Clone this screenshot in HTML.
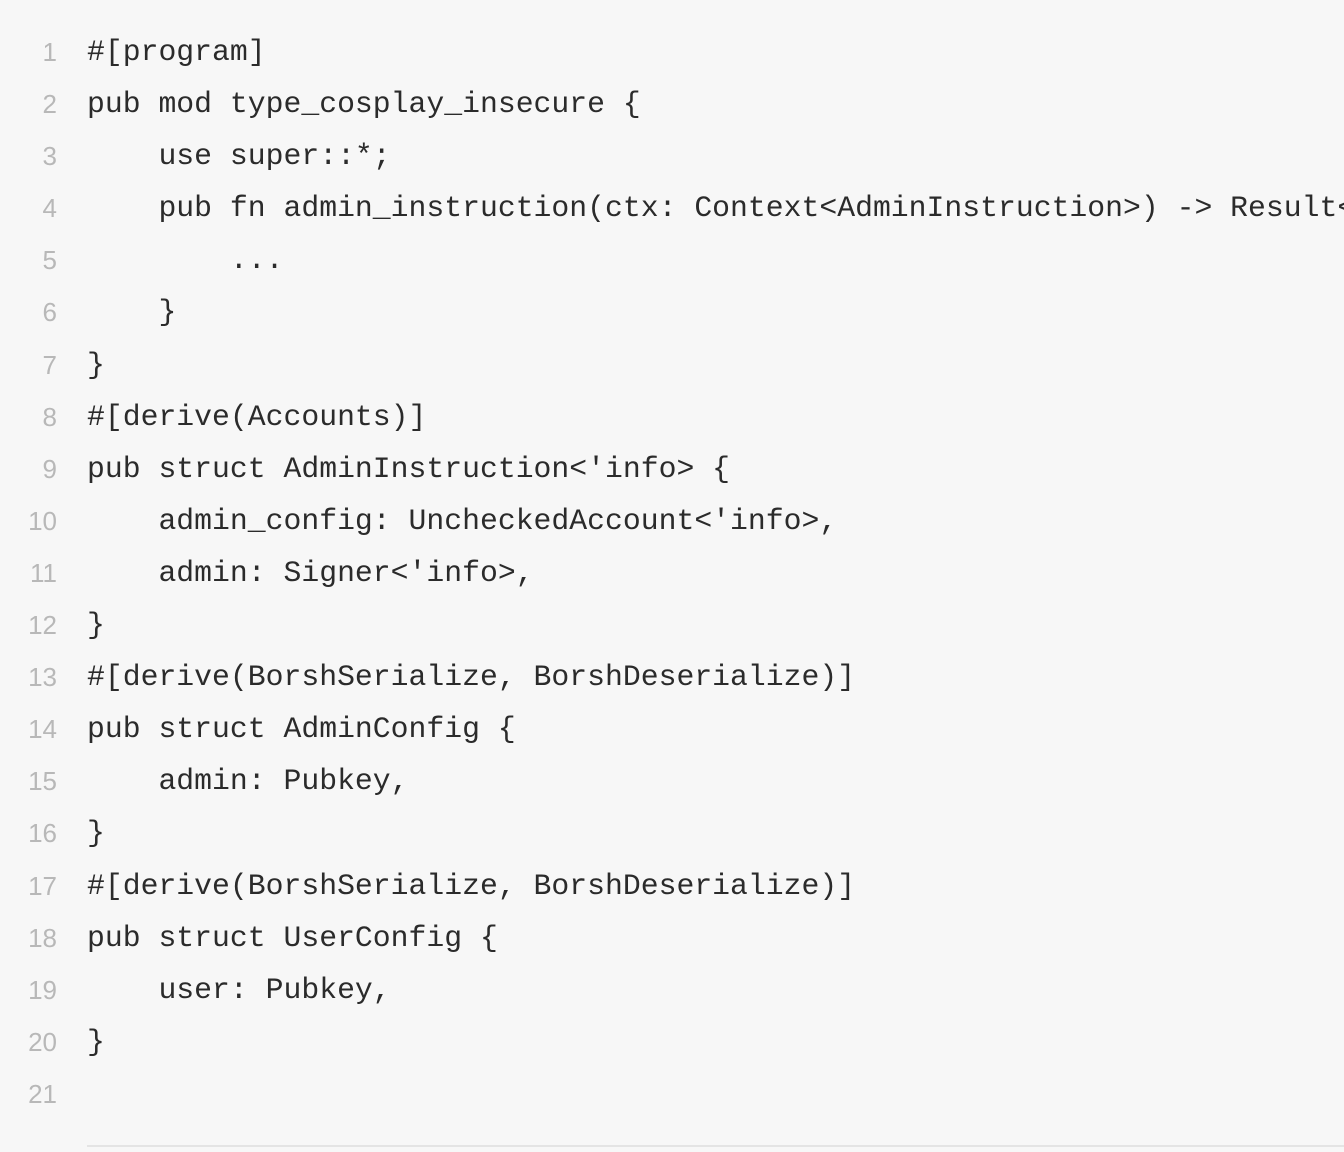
<!DOCTYPE html>
<html><head><meta charset="utf-8"><style>
html,body{margin:0;padding:0;background:#f7f7f7;width:1344px;height:1152px;overflow:hidden}
.wrap{position:absolute;left:0;top:26px;width:1344px;overflow:hidden}
.row{height:52.1px;line-height:52.1px;white-space:pre;position:relative;overflow:hidden}
.n{position:absolute;left:0;width:57px;text-align:right;color:#b8b8b8;font-family:"Liberation Sans",sans-serif;font-size:26px}
.c{position:absolute;left:87px;font-family:"Liberation Mono",monospace;font-size:29.77px;color:#2b2b2b}
.hr{position:absolute;left:87px;top:1145px;width:1257px;height:2px;background:#e4e4e4}
</style></head><body><div class="wrap">
<div class="row"><span class="n">1</span><span class="c">#[program]</span></div>
<div class="row"><span class="n">2</span><span class="c">pub mod type_cosplay_insecure {</span></div>
<div class="row"><span class="n">3</span><span class="c">    use super::*;</span></div>
<div class="row"><span class="n">4</span><span class="c">    pub fn admin_instruction(ctx: Context&lt;AdminInstruction&gt;) -&gt; Result&lt;()&gt; {</span></div>
<div class="row"><span class="n">5</span><span class="c">        ...</span></div>
<div class="row"><span class="n">6</span><span class="c">    }</span></div>
<div class="row"><span class="n">7</span><span class="c">}</span></div>
<div class="row"><span class="n">8</span><span class="c">#[derive(Accounts)]</span></div>
<div class="row"><span class="n">9</span><span class="c">pub struct AdminInstruction&lt;'info&gt; {</span></div>
<div class="row"><span class="n">10</span><span class="c">    admin_config: UncheckedAccount&lt;'info&gt;,</span></div>
<div class="row"><span class="n">11</span><span class="c">    admin: Signer&lt;'info&gt;,</span></div>
<div class="row"><span class="n">12</span><span class="c">}</span></div>
<div class="row"><span class="n">13</span><span class="c">#[derive(BorshSerialize, BorshDeserialize)]</span></div>
<div class="row"><span class="n">14</span><span class="c">pub struct AdminConfig {</span></div>
<div class="row"><span class="n">15</span><span class="c">    admin: Pubkey,</span></div>
<div class="row"><span class="n">16</span><span class="c">}</span></div>
<div class="row"><span class="n">17</span><span class="c">#[derive(BorshSerialize, BorshDeserialize)]</span></div>
<div class="row"><span class="n">18</span><span class="c">pub struct UserConfig {</span></div>
<div class="row"><span class="n">19</span><span class="c">    user: Pubkey,</span></div>
<div class="row"><span class="n">20</span><span class="c">}</span></div>
<div class="row"><span class="n">21</span><span class="c"></span></div>
</div><div class="hr"></div></body></html>
